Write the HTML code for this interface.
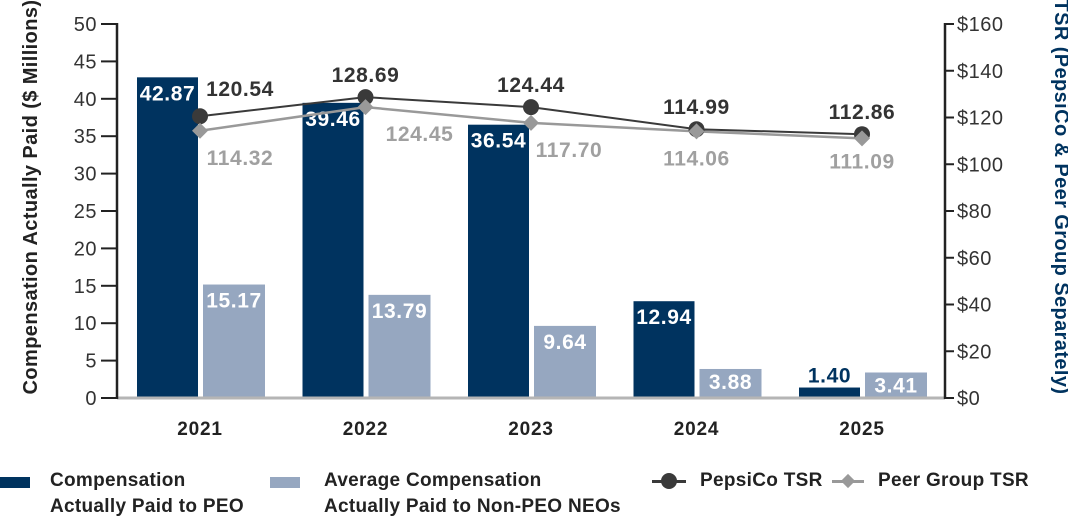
<!DOCTYPE html>
<html><head><meta charset="utf-8"><style>
body{margin:0;background:#fff;width:1068px;height:524px;overflow:hidden;font-family:"Liberation Sans",sans-serif}
</style></head><body>
<svg id="chart" width="1068" height="524" xmlns="http://www.w3.org/2000/svg" font-family="Liberation Sans, sans-serif"></svg>
<script>
const categories=["2021","2022","2023","2024","2025"];
const peoValues=[42.87,39.46,36.54,12.94,1.40];
const neoValues=[15.17,13.79,9.64,3.88,3.41];
const pepsiTSR=[120.54,128.69,124.44,114.99,112.86];
const peerTSR=[114.32,124.45,117.70,114.06,111.09];
const leftTicks=[0,5,10,15,20,25,30,35,40,45,50];
const rightTicks=[0,20,40,60,80,100,120,140,160];

const NS="http://www.w3.org/2000/svg";
const svg=document.getElementById('chart');
const y0=398,yTop=24,xL=117,xR=945;
const yL=v=>y0-(v/50)*(y0-yTop);
const yR=v=>y0-(v/160)*(y0-yTop);
const xC=i=>200+i*165.5;
function el(tag,attrs,text){const e=document.createElementNS(NS,tag);for(const k in attrs)e.setAttribute(k,attrs[k]);if(text!==undefined)e.textContent=text;svg.appendChild(e);return e;}
const VS={'font-size':21,'font-weight':'bold','letter-spacing':0.6};
function vt(x,y,fill,txt,anchor){return el('text',Object.assign({x:x,y:y,'text-anchor':anchor||'middle',fill:fill},VS),txt);}

categories.forEach((c,i)=>{
  const cx=xC(i);
  let b=el('rect',{x:cx-63,y:yL(peoValues[i]),width:61,height:y0-yL(peoValues[i]),fill:'#00335f'});
  
  
  let n=el('rect',{x:cx+3,y:yL(neoValues[i]),width:62,height:y0-yL(neoValues[i]),fill:'#96a7c0'});
  
  
  const small=peoValues[i]<3;
  let t=vt(cx-32.5,small?yL(peoValues[i])-5:yL(peoValues[i])+23,small?'#00335f':'#fff',peoValues[i].toFixed(2));
  
  
  let t2=vt(cx+34,neoValues[i]<5?yL(neoValues[i])+20:yL(neoValues[i])+23,'#fff',neoValues[i].toFixed(2));
  
  
  let xl=el('text',{x:cx,y:435,'text-anchor':'middle','font-size':19,'font-weight':'bold','letter-spacing':0.8,fill:'#222'},c);
  
  
});

let base=el('line',{x1:xL,y1:y0,x2:xR,y2:y0,stroke:'#b5b5b5','stroke-width':3});

let la=el('line',{x1:xL,y1:yTop-1,x2:xL,y2:y0+1,stroke:'#222','stroke-width':2.5});

let ra=el('line',{x1:xR,y1:yTop-1,x2:xR,y2:y0+1,stroke:'#222','stroke-width':2.5});

leftTicks.forEach(v=>{
  el('line',{x1:101,y1:yL(v),x2:xL,y2:yL(v),stroke:'#222','stroke-width':2});
  let t=el('text',{x:97,y:yL(v)+7,'text-anchor':'end','font-size':20,'letter-spacing':0.5,fill:'#333'},v);
  
});
rightTicks.forEach(v=>{
  el('line',{x1:xR,y1:yR(v),x2:954,y2:yR(v),stroke:'#222','stroke-width':2});
  let t=el('text',{x:957,y:yR(v)+7,'font-size':20,'letter-spacing':0.5,fill:'#333'},'$'+v);
  
});
let yt=el('text',{transform:'translate(37,197) rotate(-90)','text-anchor':'middle','font-size':20,'font-weight':'bold','letter-spacing':0.4,fill:'#222'},'Compensation Actually Paid ($ Millions)');

let yt2=el('text',{transform:'translate(1055,197) rotate(90)','text-anchor':'middle','font-size':20,'font-weight':'bold','letter-spacing':0.4,fill:'#00335f'},'TSR (PepsiCo & Peer Group Separately)');


let peerPts=peerTSR.map((v,i)=>xC(i)+','+yR(v)).join(' ');
let pl=el('polyline',{points:peerPts,fill:'none',stroke:'#999','stroke-width':2.5});

let pepPts=pepsiTSR.map((v,i)=>xC(i)+','+yR(v)).join(' ');
let ppl=el('polyline',{points:pepPts,fill:'none',stroke:'#3a3a3a','stroke-width':2});

const pepDX=[40,0,0,0,0];
pepsiTSR.forEach((v,i)=>{
  let c=el('circle',{cx:xC(i),cy:yR(v),r:8,fill:'#3a3a3a'});
  
  let t=vt(xC(i)+pepDX[i],yR(v)-(i==0?20:15),'#333',v.toFixed(2));
  
});
const peerDX=[40,54,38,0,0];
const peerDY=[34,34,34,34,30];
peerTSR.forEach((v,i)=>{
  const x=xC(i),y=yR(v);
  let d=el('polygon',{points:`${x},${y-8} ${x+8},${y} ${x},${y+8} ${x-8},${y}`,fill:'#999'});
  
  let t=vt(x+peerDX[i],y+peerDY[i],'#a0a0a0',v.toFixed(2));
  
});
</script>
<div style="position:absolute;left:0;top:468px;width:1068px;font-size:19px;letter-spacing:0.3px;font-weight:bold;color:#222;line-height:26px">
  <div style="position:absolute;left:0;top:0"><span style="position:absolute;left:0;top:9px;width:30px;height:11px;background:#00335f"></span><span style="position:absolute;left:50px;white-space:nowrap">Compensation<br>Actually Paid to PEO</span></div>
  <div style="position:absolute;left:270px;top:0"><span style="position:absolute;left:0;top:9px;width:30px;height:11px;background:#96a7c0"></span><span style="position:absolute;left:54px;white-space:nowrap">Average Compensation<br>Actually Paid to Non-PEO NEOs</span></div>
  <div style="position:absolute;left:652px;top:0"><span style="position:absolute;left:0;top:12px;width:34px;height:3px;background:#3a3a3a"></span><span style="position:absolute;left:9px;top:5px;width:16px;height:16px;border-radius:50%;background:#3a3a3a"></span><span style="position:absolute;left:48px;white-space:nowrap">PepsiCo TSR</span></div>
  <div style="position:absolute;left:832px;top:0"><span style="position:absolute;left:0;top:12px;width:32px;height:3px;background:#999"></span><span style="position:absolute;left:11px;top:8px;width:10px;height:10px;background:#999;transform:rotate(45deg)"></span><span style="position:absolute;left:46px;white-space:nowrap">Peer Group TSR</span></div>
</div>
</body></html>
